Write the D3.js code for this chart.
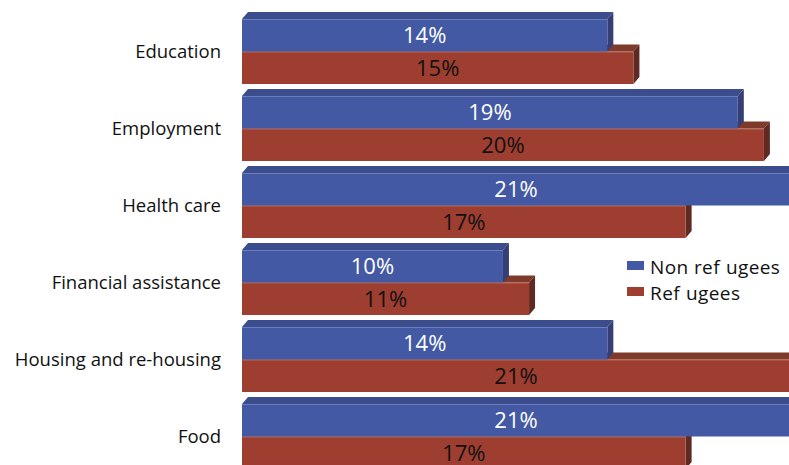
<!DOCTYPE html>
<html>
<head>
<meta charset="utf-8">
<script src="https://cdn.jsdelivr.net/npm/d3@7"></script>
<style>
  html, body { margin: 0; padding: 0; background: #ffffff; overflow: hidden; }
  svg { display: block; font-family: "Open Sans", "Noto Sans", sans-serif; }
</style>
</head>
<body>
<svg id="chart" width="789" height="465"></svg>
<script>
const categories = ["Education", "Employment", "Health care", "Financial assistance", "Housing and re-housing", "Food"];
const seriesNames = ["Non refugees", "Refugees"];
const nonRefugees = [14, 19, 21, 10, 14, 21];
const refugees = [15, 20, 17, 11, 21, 17];

const svg = d3.select("#chart");

const x = d3.scaleLinear().domain([0, 21]).range([242, 790]);
const y = d3.scaleBand().domain(categories).range([19, 19 + 77 * 6]).padding(0);
const sub = d3.scaleBand().domain(seriesNames).range([0, 65]).padding(0);

const colors = {
  "Non refugees": { front: "#4359a3", top: "#3c4d8e", side: "#353f73", hi: "#7f8fc8", text: "#ffffff" },
  "Refugees":     { front: "#9e3e30", top: "#7e3a2a", side: "#5e2a23", hi: "#c07a6c", text: "#111111" }
};
const dx = 6, dy = 7;

const rows = categories.map((c, i) => ({ cat: c, values: [
  { s: "Non refugees", v: nonRefugees[i] },
  { s: "Refugees", v: refugees[i] }
]}));

const g = svg.append("g");

rows.forEach(row => {
  const gy = y(row.cat);
  [row.values[1], row.values[0]].forEach(d => {
    const c = colors[d.s];
    const x0 = x(0), x1 = x(d.v);
    const y0 = gy + sub(d.s), h = sub.bandwidth();
    const bg = g.append("g");
    bg.append("path")
      .attr("d", `M${x0},${y0} L${x0 + dx},${y0 - dy} L${x1 + dx},${y0 - dy} L${x1},${y0} Z`)
      .attr("fill", c.top);
    bg.append("path")
      .attr("d", `M${x1},${y0} L${x1 + dx},${y0 - dy} L${x1 + dx},${y0 + h - dy} L${x1},${y0 + h} Z`)
      .attr("fill", c.side);
    bg.append("rect")
      .attr("x", x0).attr("y", y0)
      .attr("width", x1 - x0).attr("height", h)
      .attr("fill", c.front);
    bg.append("line")
      .attr("x1", x0).attr("x2", x1)
      .attr("y1", y0 + 0.5).attr("y2", y0 + 0.5)
      .attr("stroke", c.hi).attr("stroke-width", 1).attr("opacity", 0.7);
    bg.append("text")
      .attr("x", (x0 + x1) / 2)
      .attr("y", y0 + h / 2)
      .attr("dy", "0.36em")
      .attr("text-anchor", "middle")
      .attr("font-size", 22)
      .attr("fill", c.text)
      .text(d.v + "%");
  });
});

// category labels
svg.append("g").selectAll("text")
  .data(categories)
  .join("text")
  .attr("x", 221)
  .attr("y", d => y(d) + sub.bandwidth())
  .attr("dy", "0.35em")
  .attr("text-anchor", "end")
  .attr("font-size", 18.5)
  .attr("fill", "#111111")
  .text(d => d);

// legend (reference shows a gap after "ref")
const legend = svg.append("g");
seriesNames.forEach((s, i) => {
  const ly = 261 + i * 26;
  legend.append("rect")
    .attr("x", 627).attr("y", ly)
    .attr("width", 17).attr("height", 9)
    .attr("fill", colors[s].front);
  const t = legend.append("text")
    .attr("x", 650).attr("y", ly + 13)
    .attr("font-size", 19)
    .attr("letter-spacing", 0.4)
    .attr("fill", "#111111");
  const idx = s.toLowerCase().indexOf("ref") + 3;
  t.append("tspan").text(s.slice(0, idx));
  t.append("tspan").attr("dx", 6).text(s.slice(idx));
});
</script>
</body>
</html>
